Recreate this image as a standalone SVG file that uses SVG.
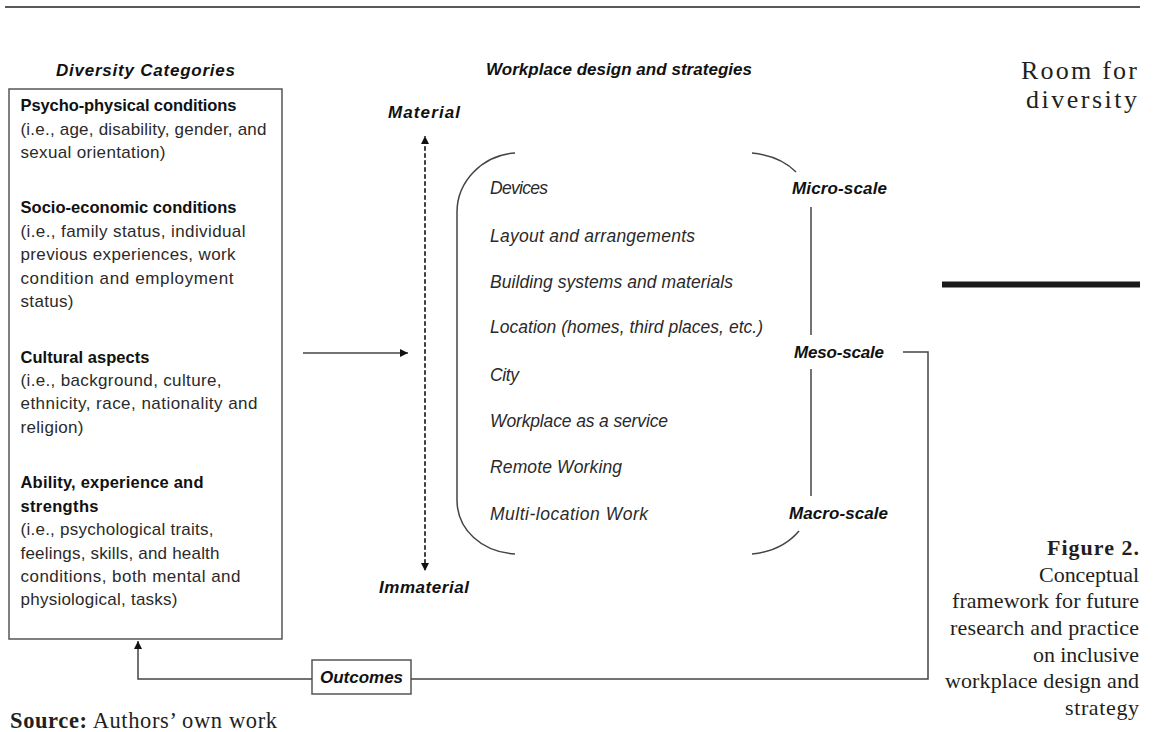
<svg xmlns="http://www.w3.org/2000/svg" width="1153" height="732" viewBox="0 0 1153 732">
<style>
.bi{font-family:"Liberation Sans",Arial,sans-serif;font-weight:bold;font-style:italic;fill:#111;font-size:17px;}
.b{font-family:"Liberation Sans",Arial,sans-serif;font-weight:bold;fill:#111;font-size:16.5px;}
.r{font-family:"Liberation Sans",Arial,sans-serif;fill:#2a2a2a;font-size:17px;}
.it{font-family:"Liberation Sans",Arial,sans-serif;font-style:italic;fill:#2a2a2a;font-size:17.5px;}
.serif{font-family:"Liberation Serif","Times New Roman",serif;fill:#231f20;}
.ln{fill:none;stroke:#444;stroke-width:1.5;}
</style>
<defs>
<marker id="ah" viewBox="0 0 10 10" refX="10" refY="5" markerWidth="8" markerHeight="8" markerUnits="userSpaceOnUse" orient="auto">
<path d="M0,0 L10,5 L0,10 Z" fill="#111"/>
</marker>
</defs>
<rect width="1153" height="732" fill="#fff"/>
<line x1="5" y1="7" x2="1140" y2="7" stroke="#222" stroke-width="1.5"/>
<rect x="942" y="281.5" width="198" height="6" fill="#1a1a1a"/>
<g id="header-right">
<text class="serif" x="1021" y="79" font-size="26" textLength="116">Room for</text>
<text class="serif" x="1026" y="108" font-size="26" textLength="111">diversity</text>
</g>
<g id="titles">
<text class="bi" x="56" y="76" font-size="17.5" textLength="179">Diversity Categories</text>
<text class="bi" x="486" y="75" textLength="266">Workplace design and strategies</text>
</g>
<g id="diversity-categories">
<rect x="9" y="89" width="273" height="550" fill="none" stroke="#555" stroke-width="1.5"/>
<text class="b" x="20.5" y="111" textLength="216">Psycho-physical conditions</text>
<text class="r" x="20.5" y="135" textLength="246">(i.e., age, disability, gender, and</text>
<text class="r" x="20.5" y="158" textLength="145">sexual orientation)</text>
<text class="b" x="20.5" y="213" textLength="216">Socio-economic conditions</text>
<text class="r" x="20.5" y="237" textLength="225">(i.e., family status, individual</text>
<text class="r" x="20.5" y="260" textLength="215">previous experiences, work</text>
<text class="r" x="20.5" y="284" textLength="213">condition and employment</text>
<text class="r" x="20.5" y="307" textLength="53">status)</text>
<text class="b" x="20.5" y="363" textLength="129">Cultural aspects</text>
<text class="r" x="20.5" y="386" textLength="201">(i.e., background, culture,</text>
<text class="r" x="20.5" y="409" textLength="237">ethnicity, race, nationality and</text>
<text class="r" x="20.5" y="433" textLength="63">religion)</text>
<text class="b" x="20.5" y="488" textLength="183">Ability, experience and</text>
<text class="b" x="20.5" y="512" textLength="78">strengths</text>
<text class="r" x="20.5" y="535" textLength="193">(i.e., psychological traits,</text>
<text class="r" x="20.5" y="559" textLength="199">feelings, skills, and health</text>
<text class="r" x="20.5" y="582" textLength="220">conditions, both mental and</text>
<text class="r" x="20.5" y="605" textLength="157">physiological, tasks)</text>
</g>
<g id="material-axis">
<line x1="425" y1="564" x2="425" y2="136" stroke="#333" stroke-width="1.5" stroke-dasharray="4,3" marker-end="url(#ah)"/>
<line x1="425" y1="146" x2="425" y2="571" stroke="#333" stroke-width="1.5" stroke-dasharray="4,3" marker-end="url(#ah)"/>
<text class="bi" x="388" y="118" font-size="17.5" textLength="72">Material</text>
<text class="bi" x="379" y="593" font-size="17.5" textLength="90">Immaterial</text>
</g>
<g id="workplace-items">
<path class="ln" d="M515,153 C482,155 457,182 457,212 V500 C457,530 482,552 515,554"/>
<path class="ln" d="M752,153 C770,155 785,161 796,172"/>
<path class="ln" d="M799,531 C788,544 772,552 752,554"/>
<text class="it" x="490" y="194" textLength="58">Devices</text>
<text class="it" x="490" y="242" textLength="205">Layout and arrangements</text>
<text class="it" x="490" y="288" textLength="243">Building systems and materials</text>
<text class="it" x="490" y="333" textLength="273">Location (homes, third places, etc.)</text>
<text class="it" x="490" y="381" textLength="29">City</text>
<text class="it" x="490" y="427" textLength="178">Workplace as a service</text>
<text class="it" x="490" y="473" textLength="132">Remote Working</text>
<text class="it" x="490" y="520" textLength="158">Multi-location Work</text>
</g>
<g id="scales">
<text class="bi" x="792" y="194" textLength="95">Micro-scale</text>
<text class="bi" x="794" y="358" textLength="90">Meso-scale</text>
<text class="bi" x="789" y="519" textLength="99">Macro-scale</text>
<line class="ln" x1="811" y1="207" x2="811" y2="335"/>
<line class="ln" x1="811" y1="369" x2="811" y2="496"/>
</g>
<g id="outcomes">
<rect x="312" y="660" width="99" height="34" fill="#fff" stroke="#555" stroke-width="1.5"/>
<text class="bi" x="361.5" y="682.5" font-size="16" text-anchor="middle">Outcomes</text>
</g>
<g id="connectors">
<line class="ln" x1="303" y1="353" x2="408" y2="353" marker-end="url(#ah)"/>
<path class="ln" d="M903,352 H928 V679 H411"/>
<path class="ln" d="M312,679 H138 V641" marker-end="url(#ah)"/>
</g>
<g id="caption">
<text class="serif" x="1047" y="555" font-size="22" font-weight="bold" textLength="92">Figure 2.</text>
<text class="serif" x="1039" y="582" font-size="22" textLength="100">Conceptual</text>
<text class="serif" x="952" y="608" font-size="22" textLength="187">framework for future</text>
<text class="serif" x="950" y="635" font-size="22" textLength="189">research and practice</text>
<text class="serif" x="1033" y="662" font-size="22" textLength="106">on inclusive</text>
<text class="serif" x="945" y="688" font-size="22" textLength="194">workplace design and</text>
<text class="serif" x="1065" y="715" font-size="22" textLength="74">strategy</text>
</g>
<g id="source">
<text class="serif" x="10" y="728" font-size="22.5" textLength="267"><tspan font-weight="bold">Source:</tspan> Authors’ own work</text>
</g>
</svg>
